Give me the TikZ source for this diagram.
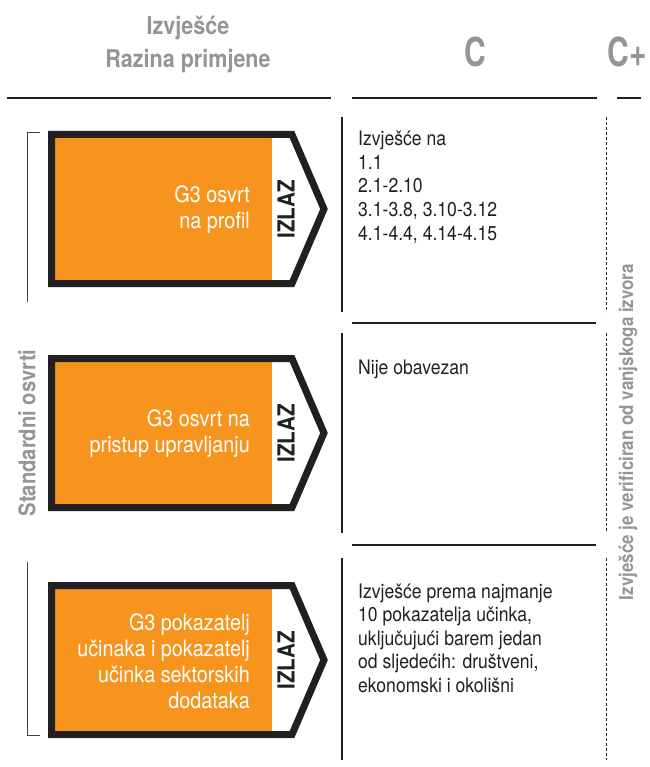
\documentclass[tikz,border=0pt]{standalone}
\usepackage{fontspec}
\setmainfont{TeX Gyre Heros}[FakeStretch=0.88]
\newfontfamily\capfont{TeX Gyre Heros}[FakeStretch=0.75]
\definecolor{gorange}{RGB}{247,148,30}
\definecolor{ink}{RGB}{35,31,32}
\definecolor{muted}{RGB}{147,149,152}

\begin{document}
\begin{tikzpicture}[x=1pt, y=-1pt,
    hdr/.style={anchor=base, text=muted, inner sep=0pt, font=\bfseries\fontsize{24.5}{33}\selectfont},
    level/.style={anchor=base, text=muted, inner sep=0pt, font=\capfont\bfseries\fontsize{40}{40}\selectfont},
    body/.style={anchor=base west, align=left, text=ink, inner sep=0pt, font=\fontsize{20}{23.5}\selectfont},
    boxtxt/.style={anchor=east, align=right, text=white, inner sep=0pt, font=\fontsize{22.5}{26}\selectfont},
    outtag/.style={rotate=90, text=ink, inner sep=0pt, font=\bfseries\fontsize{23.5}{23.5}\selectfont},
    sidelbl/.style={rotate=90, text=muted, inner sep=0pt},
    rule/.style={ink, line width=1.3pt},
    dashrule/.style={ink, line width=1pt, dash pattern=on 3pt off 2pt},
    bracket/.style={ink!85, line width=1pt}]
    \useasboundingbox (0,0) rectangle (649,767);

    % Header
    \node[hdr] (hd1) at (188,35) {Izvješće};
    \node[hdr] (hd2) at (188,68) {Razina primjene};
    \node[level] (lvc) at (475,67) {C};
    \node[level] (lvcp) at (627,67) {C+};
    \draw[rule] (7,98) -- (331,98);
    \draw[rule] (352,98) -- (597,98);
    \draw[rule] (617,98) -- (641,98);

    % Column rules
    \foreach \a/\b in {117/312, 333/533, 558/760} {
        \draw[rule, line width=1.1pt] (342,\a) -- (342,\b);
        \draw[dashrule] (606,\a) -- (606,\b);
    }
    \draw[rule, line width=1.1pt] (352,323) -- (596,323);
    \draw[rule, line width=1.1pt] (352,545) -- (596,545);

    % Output boxes
    \foreach \t/\txt [count=\i] in {131/{G3 osvrt\\na profil},
            355/{G3 osvrt na\\pristup upravljanju},
            582/{G3 pokazatelj\\učinaka i pokazatelj\\učinka sektorskih\\dodataka}} {
        \fill[white] (51.5,\t+3.5) -- (292,\t+3.5) -- (324,\t+78) -- (292,\t+152.5) -- (51.5,\t+152.5) -- cycle;
        \fill[gorange] (55,\t+7) rectangle (272,\t+149);
        \draw[ink, line width=7pt, miter limit=10] (51.5,\t+3.5) -- (292,\t+3.5) -- (324,\t+78) -- (292,\t+152.5) -- (51.5,\t+152.5) -- cycle;
        \node[boxtxt] (box\i) at (250,\t+79) {\txt};
        \node[outtag] (out\i) at (286,\t+78) {IZLAZ};
    }

    % Bracket
    \draw[bracket] (40,133) -- (27,133) -- (27,302);
    \draw[bracket] (27,562) -- (27,735) -- (40,735);
    \node[sidelbl, font=\bfseries\fontsize{23}{23}\selectfont] (std) at (27,433) {Standardni osvrti};

    % C column (base = last line)
    \node[body] (req1) at (358,240) {Izvješće na\\1.1\\2.1-2.10\\3.1-3.8, 3.10-3.12\\4.1-4.4, 4.14-4.15};
    \node[body] (req2) at (358,374) {Nije obavezan};
    \node[body] (req3) at (358,692) {Izvješće prema najmanje\\10 pokazatelja učinka,\\uključujući barem jedan\\od sljedećih: društveni,\\ekonomski i okolišni};

    % C+ column
    \node[sidelbl, font=\bfseries\fontsize{19.3}{19.3}\selectfont] (verif) at (628,432) {Izvješće je verificiran od vanjskoga izvora};
\end{tikzpicture}
\end{document}
